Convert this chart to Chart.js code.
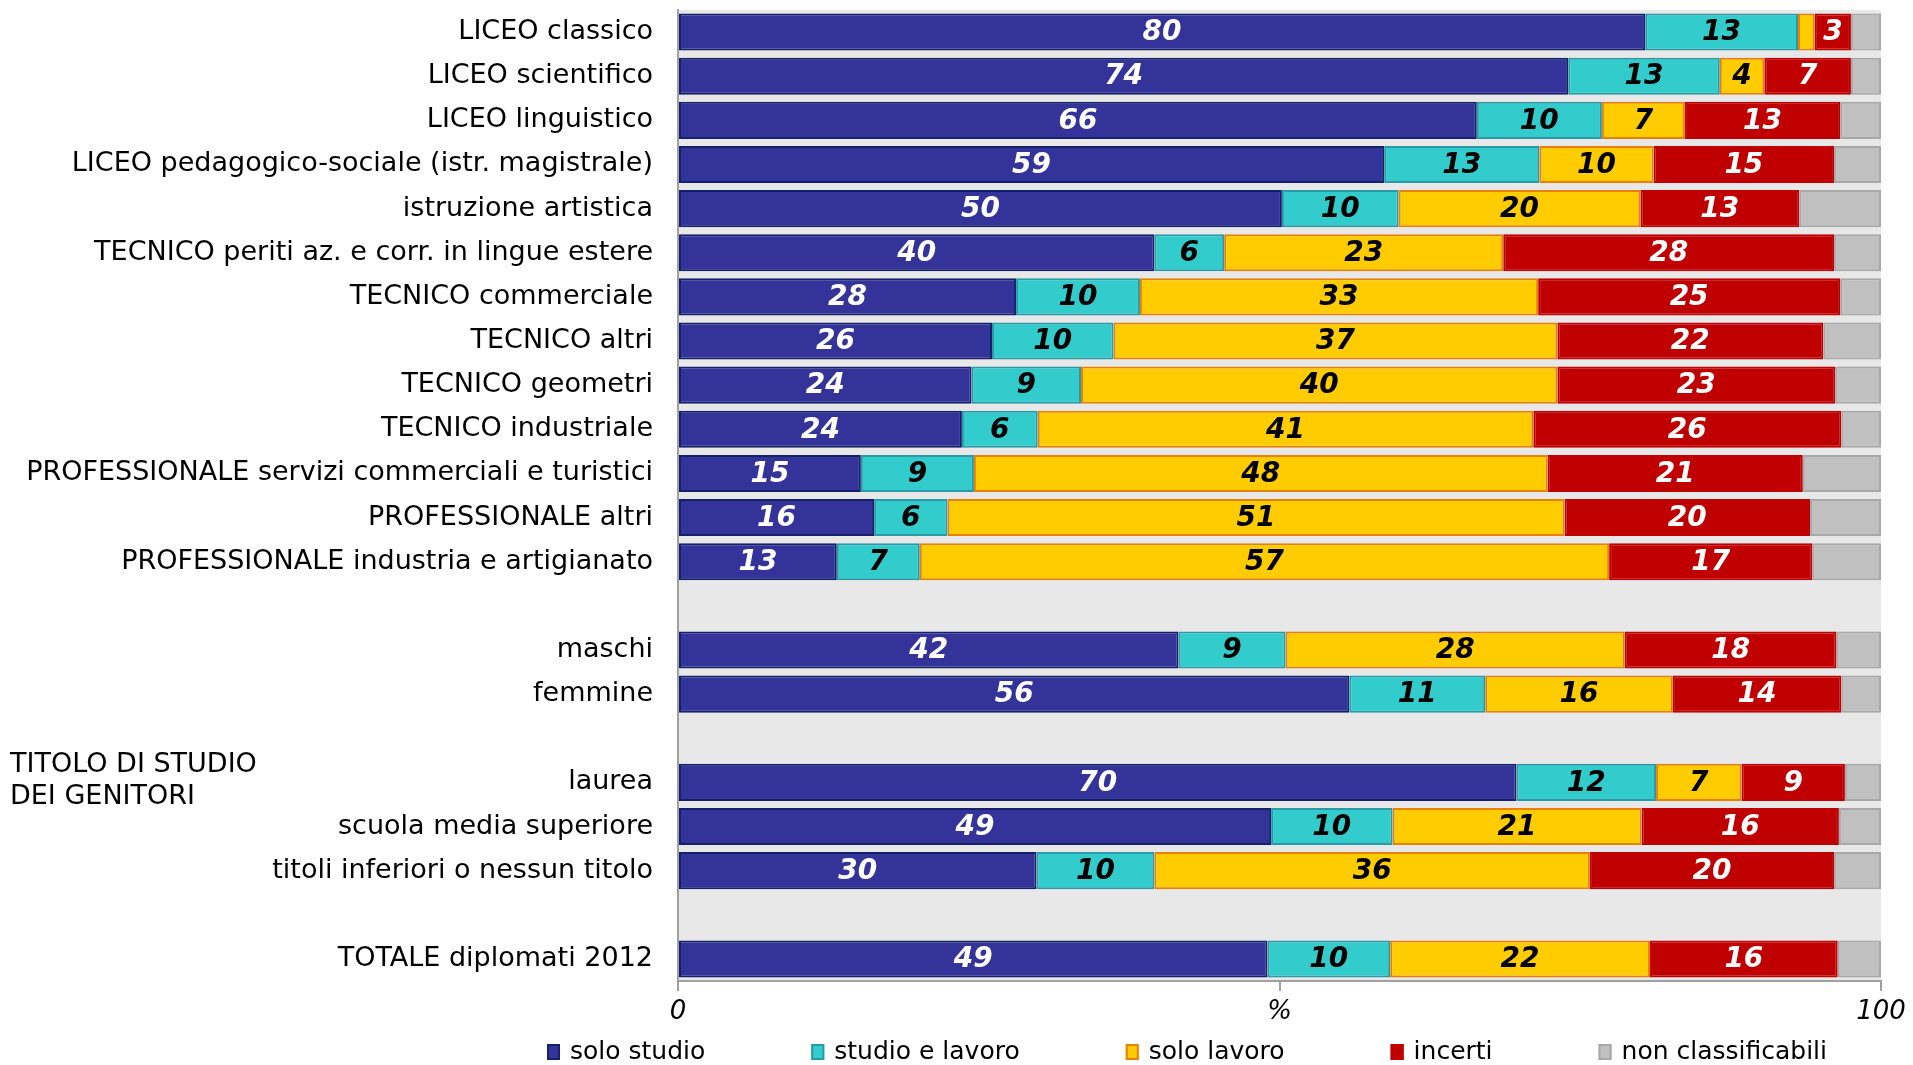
<!DOCTYPE html>
<html>
<head>
<meta charset="utf-8">
<script src="https://cdn.jsdelivr.net/npm/chart.js@4"></script>
<style>
  html, body { margin: 0; padding: 0; background: #fff; }
  #wrap { width: 1913px; height: 1065px; position: relative; }
</style>
</head>
<body>
<div id="wrap"><canvas id="chart"></canvas></div>
<script>
// --- dati (le etichette mostrano il valore arrotondato) ---
const categories = [
  "LICEO classico",
  "LICEO scientifico",
  "LICEO linguistico",
  "LICEO pedagogico-sociale (istr. magistrale)",
  "istruzione artistica",
  "TECNICO periti az. e corr. in lingue estere",
  "TECNICO commerciale",
  "TECNICO altri",
  "TECNICO geometri",
  "TECNICO industriale",
  "PROFESSIONALE servizi commerciali e turistici",
  "PROFESSIONALE altri",
  "PROFESSIONALE industria e artigianato",
  "",
  "maschi",
  "femmine",
  "",
  "laurea",
  "scuola media superiore",
  "titoli inferiori o nessun titolo",
  "",
  "TOTALE diplomati 2012",
];
const soloStudio   = [80.4, 74, 66.4, 58.7, 50.2, 39.6, 28.1, 26.1, 24.4, 23.6, 15.2, 16.3, 13.2, null, 41.6, 55.8, null, 69.7, 49.3, 29.8, null, 49.0];
const studioLavoro = [12.7, 12.6, 10.4, 12.9, 9.7, 5.8, 10.3, 10.1, 9.1, 6.3, 9.4, 6.1, 6.9, null, 8.9, 11.3, null, 11.6, 10.1, 9.8, null, 10.2];
const soloLavoro   = [1.4, 3.7, 6.9, 9.5, 20.1, 23.2, 33.1, 36.9, 39.6, 41.2, 47.7, 51.3, 57.3, null, 28.2, 15.6, null, 7.1, 20.7, 36.2, null, 21.6];
const incerti      = [3.0, 7.2, 12.9, 15.0, 13.2, 27.5, 25.1, 22.1, 23.1, 25.6, 21.2, 20.4, 16.9, null, 17.6, 14.0, null, 8.6, 16.4, 20.3, null, 15.6];
const nonClass     = [2.5, 2.5, 3.4, 3.9, 6.8, 3.9, 3.4, 4.8, 3.8, 3.3, 6.5, 5.9, 5.7, null, 3.7, 3.3, null, 3.0, 3.5, 3.9, null, 3.6];

const seriesNames = ["solo studio", "studio e lavoro", "solo lavoro", "incerti", "non classificabili"];
const xTickValues = [0, 50, 100];
const xTickLabels = ["0", "%", "100"];
const groupTitle = ["TITOLO DI STUDIO", "DEI GENITORI"];
const groupTitleRow = "laurea";

// --- stile ---
const FONT = "'DejaVu Sans', Verdana, sans-serif";
const fills   = ["#333399", "#33CCCC", "#FFCC00", "#C00000", "#C0C0C0"];
const borders = ["#14206a", "#2a9aa8", "#E8800A", "#C00000", "#A8A8A8"];
const labelColors = ["#ffffff", "#000000", "#000000", "#ffffff", null];

// sfondo grigio dell'area del grafico
const plotBg = {
  id: "plotBg",
  beforeDraw: (chart) => {
    const { ctx, chartArea } = chart;
    ctx.save();
    ctx.fillStyle = "#E8E8E8";
    ctx.fillRect(chartArea.left, chartArea.top, chartArea.right - chartArea.left, chartArea.bottom - chartArea.top);
    ctx.restore();
  },
};

// etichette dei valori dentro le barre
const valueLabels = {
  id: "valueLabels",
  afterDatasetsDraw: (chart) => {
    const { ctx } = chart;
    ctx.save();
    ctx.font = "italic bold 28px " + FONT;
    ctx.textAlign = "center";
    ctx.textBaseline = "middle";
    chart.data.datasets.forEach((ds, di) => {
      if (!labelColors[di]) return;
      const meta = chart.getDatasetMeta(di);
      meta.data.forEach((bar, i) => {
        const v = ds.data[i];
        if (v == null || v < 2.5) return; // segmenti troppo piccoli senza etichetta
        ctx.fillStyle = labelColors[di];
        ctx.fillText(String(Math.round(v)), (bar.x + bar.base) / 2, bar.y + 1);
      });
    });
    ctx.restore();
  },
};

// titolo del gruppo a sinistra + legenda in basso
const extras = {
  id: "extras",
  afterDraw: (chart) => {
    const { ctx, scales: { y } } = chart;
    ctx.save();
    ctx.fillStyle = "#000";
    ctx.font = "27px " + FONT;
    ctx.textAlign = "left";
    ctx.textBaseline = "middle";
    const yRow = y.getPixelForValue(categories.indexOf(groupTitleRow));
    ctx.fillText(groupTitle[0], 10, yRow - 17);
    ctx.fillText(groupTitle[1], 10, yRow + 15);

    // legenda
    ctx.font = "25px " + FONT;
    let x = 547;
    const yLeg = 1052;
    seriesNames.forEach((name, i) => {
      ctx.fillStyle = fills[i];
      ctx.fillRect(x, yLeg - 8, 13, 16);
      ctx.strokeStyle = borders[i];
      ctx.lineWidth = 2;
      ctx.strokeRect(x + 1, yLeg - 7, 11, 14);
      ctx.fillStyle = "#000";
      ctx.fillText(name, x + 23, yLeg);
      x += 23 + ctx.measureText(name).width + 106;
    });
    ctx.restore();
  },
};

const datasets = [soloStudio, studioLavoro, soloLavoro, incerti, nonClass].map((data, i) => ({
  label: seriesNames[i],
  data: data,
  backgroundColor: fills[i],
  borderColor: borders[i],
  borderWidth: 2,
  borderSkipped: false,
  barPercentage: 0.84,
  categoryPercentage: 1,
}));

new Chart(document.getElementById("chart"), {
  type: "bar",
  data: { labels: categories, datasets: datasets },
  plugins: [plotBg, valueLabels, extras],
  options: {
    indexAxis: "y",
    responsive: true,
    maintainAspectRatio: false,
    animation: false,
    layout: { padding: { top: 10, right: 32, left: 0, bottom: 0 } },
    plugins: {
      legend: { display: false },
      tooltip: { enabled: false },
    },
    scales: {
      x: {
        stacked: true,
        min: 0,
        max: 100,
        afterFit: (scale) => { scale.height = 84; },
        afterBuildTicks: (scale) => { scale.ticks = xTickValues.map((v) => ({ value: v })); },
        grid: { drawOnChartArea: false, drawTicks: true, tickLength: 10, color: "#A0A0A0", lineWidth: 2 },
        border: { display: true, color: "#A0A0A0", width: 2 },
        ticks: {
          autoSkip: false,
          maxRotation: 0,
          padding: 6,
          color: "#000",
          font: { family: FONT, size: 26, style: "italic" },
          callback: (v) => xTickLabels[xTickValues.indexOf(v)] ?? "",
        },
      },
      y: {
        stacked: true,
        afterFit: (scale) => {
          scale.width = 678;
          scale.paddingTop = 0;
          scale.paddingBottom = 0;
        },
        grid: { display: false },
        border: { display: true, color: "#A0A0A0", width: 2 },
        ticks: {
          autoSkip: false,
          padding: 17,
          color: "#000",
          font: { family: FONT, size: 27 },
        },
      },
    },
  },
});
</script>
</body>
</html>
